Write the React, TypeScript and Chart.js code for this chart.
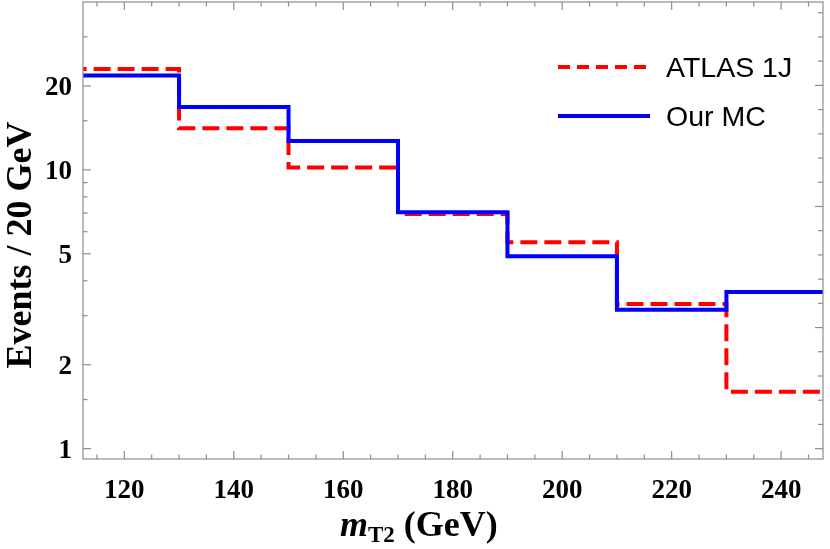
import React, { useEffect, useRef } from 'react';
import { Chart, registerables } from 'chart.js';

Chart.register(...registerables);

// ---- data ----
const binEdges = [110, 130, 150, 170, 190, 210, 230, 250];
const atlas1J = [23.0, 14.1, 10.2, 6.95, 5.5, 3.3, 1.6];
const ourMC = [21.8, 16.8, 12.7, 7.05, 4.9, 3.15, 3.65];
const seriesNames = ['ATLAS 1J', 'Our MC'];

// ---- ticks ----
const xMajorTicks = [120, 140, 160, 180, 200, 220, 240];
const xMinorTicks = [115, 125, 130, 135, 145, 150, 155, 165, 170, 175, 185, 190, 195, 205, 210, 215, 225, 230, 235, 245];
const yMajorTicks = [1, 2, 5, 10, 20];
const yMinorTicks = [1.5, 3, 4, 6, 7, 8, 9, 15, 30];
const rightLnTicks = [0, 0.2, 0.4, 0.6, 0.8, 1, 1.2, 1.4, 1.6, 1.8, 2, 2.2, 2.4, 2.6, 2.8, 3, 3.2, 3.4, 3.6];

const xTitleMain = 'm';
const xTitleSub = 'T2';
const xTitleRest = ' (GeV)';
const yTitle = 'Events / 20 GeV';

const toSteps = (vals: number[]) =>
  binEdges.map((e, i) => ({ x: e, y: vals[Math.min(i, vals.length - 1)] }));

const framePlugin = {
  id: 'framePlugin',
  afterDraw(chart: any) {
    const { ctx, chartArea, scales } = chart;
    const { left, right, top, bottom } = chartArea;
    const xs = scales.x;
    const ys = scales.y;
    ctx.save();
    ctx.strokeStyle = '#8c8c8c';
    ctx.lineWidth = 1.2;
    ctx.setLineDash([]);
    ctx.strokeRect(left, top, right - left, bottom - top);
    const seg = (x0: number, y0: number, x1: number, y1: number) => {
      ctx.beginPath();
      ctx.moveTo(x0, y0);
      ctx.lineTo(x1, y1);
      ctx.stroke();
    };
    xMajorTicks.forEach((v) => {
      const p = xs.getPixelForValue(v);
      seg(p, bottom, p, bottom - 8);
      seg(p, top, p, top + 8);
    });
    xMinorTicks.forEach((v) => {
      const p = xs.getPixelForValue(v);
      seg(p, bottom, p, bottom - 4.5);
      seg(p, top, p, top + 4.5);
    });
    yMajorTicks.forEach((v) => {
      const p = ys.getPixelForValue(v);
      seg(left, p, left + 8, p);
    });
    yMinorTicks.forEach((v) => {
      const p = ys.getPixelForValue(v);
      seg(left, p, left + 4.5, p);
    });
    rightLnTicks.forEach((v) => {
      const p = ys.getPixelForValue(Math.exp(v));
      const len = Number.isInteger(v) ? 8 : 5;
      seg(right, p, right - len, p);
    });

    // tick labels
    ctx.fillStyle = '#000';
    ctx.font = 'bold 27px "Liberation Serif"';
    ctx.textAlign = 'center';
    ctx.textBaseline = 'alphabetic';
    xMajorTicks.forEach((v) => {
      ctx.fillText(String(v), xs.getPixelForValue(v), 498);
    });
    ctx.textAlign = 'right';
    yMajorTicks.forEach((v) => {
      ctx.fillText(String(v), 72, ys.getPixelForValue(v) + 9);
    });

    // y title
    ctx.save();
    ctx.translate(31, 245);
    ctx.rotate(-Math.PI / 2);
    ctx.font = 'bold 36px "Liberation Serif"';
    ctx.textAlign = 'center';
    ctx.textBaseline = 'alphabetic';
    ctx.fillText(yTitle, 0, 0);
    ctx.restore();

    // x title
    ctx.textAlign = 'left';
    let tx = 340;
    const base = 536;
    ctx.font = 'italic bold 36px "Liberation Serif"';
    ctx.fillText(xTitleMain, tx, base);
    tx += ctx.measureText(xTitleMain).width;
    ctx.font = 'bold 23px "Liberation Serif"';
    ctx.fillText(xTitleSub, tx, base + 6);
    tx += ctx.measureText(xTitleSub).width;
    ctx.font = 'bold 36px "Liberation Serif"';
    ctx.fillText(xTitleRest, tx, base);

    // legend
    ctx.lineWidth = 4;
    ctx.strokeStyle = '#ff0000';
    ctx.setLineDash([12, 7]);
    seg(558, 67, 648, 67);
    ctx.setLineDash([]);
    ctx.strokeStyle = '#0000ff';
    seg(558, 116, 650, 116);
    ctx.font = '28.5px "Liberation Sans"';
    ctx.fillStyle = '#000';
    ctx.fillText(seriesNames[0], 666, 77);
    ctx.fillText(seriesNames[1], 666, 126);
    ctx.restore();
  },
};

export default function App() {
  const ref = useRef<HTMLCanvasElement | null>(null);
  useEffect(() => {
    if (!ref.current) return;
    const chart = new Chart(ref.current, {
      type: 'line',
      data: {
        datasets: [
          {
            label: seriesNames[0],
            data: toSteps(atlas1J),
            borderColor: '#ff0000',
            borderWidth: 4,
            borderDash: [17, 7],
            stepped: 'before',
            pointRadius: 0,
            fill: false,
            order: 2,
          },
          {
            label: seriesNames[1],
            data: toSteps(ourMC),
            borderColor: '#0000ff',
            borderWidth: 4,
            stepped: 'before',
            pointRadius: 0,
            fill: false,
            order: 1,
          },
        ],
      },
      options: {
        animation: false,
        responsive: false,
        devicePixelRatio: 1,
        layout: { padding: { left: 83, right: 7, top: 2, bottom: 90 } },
        plugins: { legend: { display: false }, tooltip: { enabled: false } },
        scales: {
          x: { type: 'linear', min: 112.45, max: 247.65, display: false },
          y: { type: 'logarithmic', min: 0.918, max: 40, display: false },
        },
      },
      plugins: [framePlugin],
    } as any);
    return () => chart.destroy();
  }, []);
  return (
    <div style={{ position: 'absolute', left: 0, top: 0, width: 830, height: 549, background: '#fff' }}>
      <canvas ref={ref} width={830} height={549} />
    </div>
  );
}
